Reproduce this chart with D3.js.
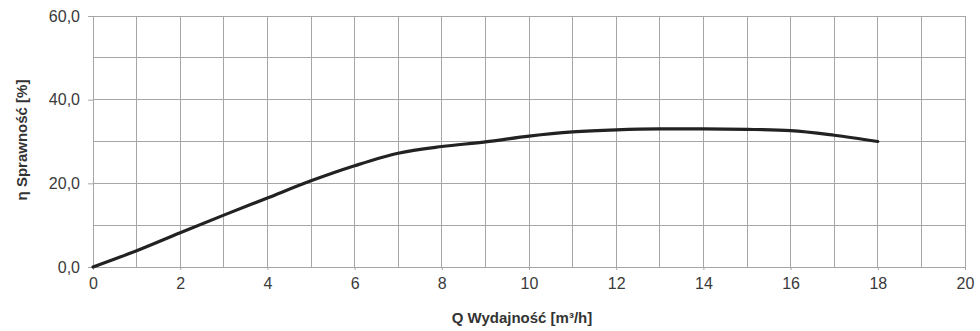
<!DOCTYPE html>
<html>
<head>
<meta charset="utf-8">
<script src="https://cdn.jsdelivr.net/npm/d3@7"></script>
<style>
  html, body { margin: 0; padding: 0; background: #fff; }
  svg { display: block; }
  text { font-family: "Liberation Sans", Arial, sans-serif; }
</style>
</head>
<body>
<svg id="chart" width="980" height="331"></svg>
<script>
// Data
const flowQ = [0, 1, 2, 3, 4, 5, 6, 7, 8, 9, 10, 11, 12, 13, 14, 15, 16, 17, 18];
const efficiency = [0, 3.9, 8.2, 12.4, 16.5, 20.6, 24.2, 27.2, 28.8, 29.9, 31.3, 32.3, 32.8, 33.0, 33.0, 32.9, 32.6, 31.5, 30.0];
const xTicks = [0, 2, 4, 6, 8, 10, 12, 14, 16, 18, 20];
const yTicks = [0, 20, 40, 60];
const xTitle = "Q Wydajność [m³/h]";
const yTitle = "η Sprawność [%]";

const svg = d3.select("#chart");
const plotLeft = 93, plotRight = 965, plotTop = 16, plotBottom = 267;

const x = d3.scaleLinear().domain([0, 20]).range([plotLeft, plotRight]);
const y = d3.scaleLinear().domain([0, 60]).range([plotBottom, plotTop]);

const gridColor = "#a6a6a6";

// vertical grid
svg.append("g").selectAll("line")
  .data(d3.range(0, 21, 1))
  .join("line")
  .attr("x1", d => x(d)).attr("x2", d => x(d))
  .attr("y1", plotTop).attr("y2", plotBottom)
  .attr("stroke", gridColor).attr("stroke-width", 1)
  .attr("shape-rendering", "crispEdges");

// horizontal grid
svg.append("g").selectAll("line")
  .data(d3.range(0, 61, 10))
  .join("line")
  .attr("x1", plotLeft).attr("x2", plotRight)
  .attr("y1", d => y(d)).attr("y2", d => y(d))
  .attr("stroke", gridColor).attr("stroke-width", 1)
  .attr("shape-rendering", "crispEdges");

// y axis
const yAxis = d3.axisLeft(y).tickValues(yTicks).tickSize(5).tickPadding(8)
  .tickFormat(d => d3.format(".1f")(d).replace(".", ","));
const gy = svg.append("g").attr("transform", `translate(${plotLeft},0)`).call(yAxis);
gy.select(".domain").remove();
gy.selectAll(".tick line").attr("stroke", gridColor);
gy.selectAll(".tick text").attr("fill", "#3a3a3a").style("font-size", "16px")
  .style("font-family", "'Liberation Sans', Arial, sans-serif");

// x axis
const xAxis = d3.axisBottom(x).tickValues(xTicks).tickSize(3).tickPadding(8);
const gx = svg.append("g").attr("transform", `translate(0,${plotBottom})`).call(xAxis);
gx.select(".domain").remove();
gx.selectAll(".tick line").attr("stroke", gridColor);
gx.selectAll(".tick text").attr("fill", "#3a3a3a").style("font-size", "16px")
  .style("font-family", "'Liberation Sans', Arial, sans-serif");

// curve
const line = d3.line()
  .x((d, i) => x(flowQ[i]))
  .y(d => y(d))
  .curve(d3.curveMonotoneX);
svg.append("path")
  .datum(efficiency)
  .attr("d", line)
  .attr("fill", "none")
  .attr("stroke", "#222")
  .attr("stroke-width", 3.2)
  .attr("stroke-linecap", "round");

// titles
svg.append("text")
  .attr("x", 522).attr("y", 323)
  .attr("text-anchor", "middle")
  .attr("fill", "#333")
  .style("font-size", "15px").style("font-weight", "bold")
  .text(xTitle);

svg.append("text")
  .attr("transform", `translate(27,140) rotate(-90)`)
  .attr("text-anchor", "middle")
  .attr("fill", "#333")
  .style("font-size", "15px").style("font-weight", "bold")
  .text(yTitle);
</script>
</body>
</html>
